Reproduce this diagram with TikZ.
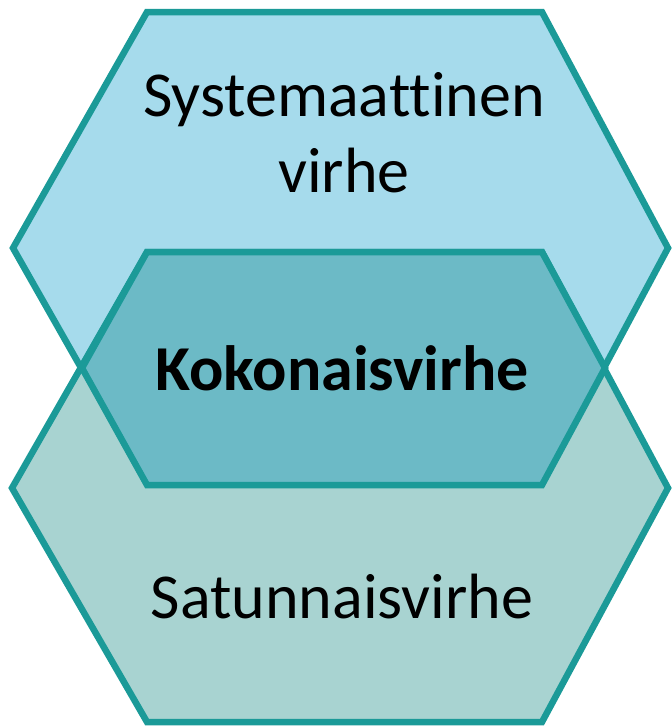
\documentclass[tikz,border=0pt]{standalone}
\usepackage{fontspec}
\setmainfont[Ligatures=NoCommon]{Carlito}
\usepackage{tikz}
\definecolor{hexedge}{HTML}{1B9A98}
\definecolor{sysfill}{HTML}{A6DBEC}
\definecolor{satfill}{HTML}{A8D3D1}
\definecolor{kokfill}{HTML}{6CBAC6}
\tikzset{
  hexline/.style={draw=hexedge, line width=6.5pt, line join=miter},
  hexlabel/.style={align=center, font=\fontsize{64}{76}\selectfont, inner sep=0pt}
}

\begin{document}
\begin{tikzpicture}[x=1pt, y=-1pt]
\useasboundingbox (0,0) rectangle (672,726);
% Systemaattinen virhe (upper hexagon)
\draw[hexline, fill=sysfill] (147,12) -- (542,12) -- (668,248) -- (542,484) -- (147,484) -- (13,248) -- cycle;
% Satunnaisvirhe (lower hexagon)
\draw[hexline, fill=satfill] (147,252) -- (542,252) -- (668,488) -- (542,722) -- (147,722) -- (12,488) -- cycle;
% Kokonaisvirhe (overlap)
\draw[hexline, fill=kokfill] (147,252) -- (542,252) -- (605,368) -- (542,485) -- (147,485) -- (82,368) -- cycle;

\node[hexlabel] (sys) at (344,133) {Systemaattinen\\virhe};
\node[hexlabel, font=\fontsize{64}{76}\selectfont\bfseries] (kok) at (342,368) {Kokonaisvirhe};
\node[hexlabel] (sat) at (342,597) {Satunnaisvirhe};
\end{tikzpicture}
\end{document}
